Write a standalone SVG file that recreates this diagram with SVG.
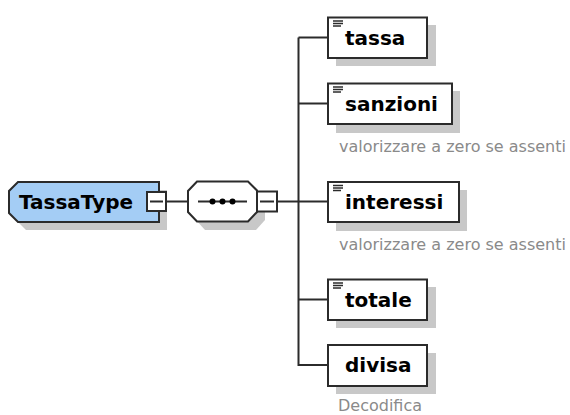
<svg xmlns="http://www.w3.org/2000/svg" width="570" height="415" viewBox="0 0 570 415">
<style>
.ln{stroke:#2b2b2b;stroke-width:2;fill:none}
.bx{fill:#ffffff;stroke:#2b2b2b;stroke-width:2}
.sh{fill:#c8c8c8;stroke:none}
.lbl{font-family:"DejaVu Sans",Verdana,sans-serif;font-weight:bold;font-size:20px;fill:#000}
.cm{font-family:"DejaVu Sans",Verdana,sans-serif;font-size:16px;fill:#8a8a8a}
.ic{stroke:#2b2b2b;stroke-width:1.5}
</style>
<defs>
<g id="icon">
<line class="ic" x1="333" y1="21" x2="343" y2="21"/>
<line class="ic" x1="333" y1="23.5" x2="343" y2="23.5"/>
<line class="ic" x1="333" y1="26" x2="341" y2="26"/>
</g>
</defs>
<rect width="570" height="415" fill="#ffffff"/>
<g id="connectors">
<line class="ln" x1="166" y1="201.5" x2="188" y2="201.5"/>
<line class="ln" x1="277" y1="201.5" x2="298.5" y2="201.5"/>
<line class="ln" x1="298.5" y1="37.5" x2="298.5" y2="366"/>
<line class="ln" x1="298.5" y1="37.5" x2="328" y2="37.5"/>
<line class="ln" x1="298.5" y1="103.5" x2="328" y2="103.5"/>
<line class="ln" x1="298.5" y1="201.5" x2="328" y2="201.5"/>
<line class="ln" x1="298.5" y1="299.5" x2="328" y2="299.5"/>
<line class="ln" x1="298.5" y1="365" x2="328" y2="365"/>
</g>
<g id="TassaType">
<polygon class="sh" points="26,190 167,190 167,230 26,230 17,221 17,199"/>
<polygon points="18,182 159,182 159,222 18,222 9,213 9,191" fill="#a4cdf5" stroke="#2b2b2b" stroke-width="2"/>
<text class="lbl" x="19" y="209">TassaType</text>
<rect class="bx" x="147" y="192" width="19" height="19"/>
<line class="ln" x1="150" y1="201.5" x2="163" y2="201.5"/>
</g>
<g id="sequence">
<polygon class="sh" points="205,190 256,190 265,199 265,220 256,230 205,230 196,220 196,199"/>
<polygon class="bx" points="197,181.5 248,181.5 257,190.5 257,212 248,221.5 197,221.5 188,212 188,191"/>
<line class="ln" x1="198" y1="201.5" x2="247" y2="201.5"/>
<circle cx="212.5" cy="201.5" r="3" fill="#000"/>
<circle cx="222.5" cy="201.5" r="3" fill="#000"/>
<circle cx="232.5" cy="201.5" r="3" fill="#000"/>
<rect class="bx" x="257" y="191.5" width="20" height="20"/>
<line class="ln" x1="260" y1="201.5" x2="274" y2="201.5"/>
</g>
<g id="tassa">
<rect class="sh" x="336" y="25" width="100" height="41"/>
<rect class="bx" x="328" y="17.5" width="99" height="40.5"/>
<use href="#icon"/>
<text class="lbl" x="345" y="44.5">tassa</text>
</g>
<g id="sanzioni">
<rect class="sh" x="336" y="91" width="124" height="42"/>
<rect class="bx" x="328" y="83.5" width="124" height="40.5"/>
<use href="#icon" y="66"/>
<text class="lbl" x="345" y="110.5">sanzioni</text>
<text class="cm" x="339" y="152">valorizzare a zero se assenti</text>
</g>
<g id="interessi">
<rect class="sh" x="336" y="190" width="131" height="41"/>
<rect class="bx" x="328" y="182" width="131" height="40"/>
<use href="#icon" y="164.5"/>
<text class="lbl" x="345" y="208.5">interessi</text>
<text class="cm" x="339" y="250">valorizzare a zero se assenti</text>
</g>
<g id="totale">
<rect class="sh" x="336" y="287" width="100" height="41"/>
<rect class="bx" x="328" y="279.5" width="99" height="40.5"/>
<use href="#icon" y="262"/>
<text class="lbl" x="345" y="306.5">totale</text>
</g>
<g id="divisa">
<rect class="sh" x="336" y="353" width="100" height="41"/>
<rect class="bx" x="328" y="345" width="99" height="41"/>
<text class="lbl" x="345" y="372">divisa</text>
<text class="cm" x="338" y="410.5">Decodifica</text>
</g>
</svg>
